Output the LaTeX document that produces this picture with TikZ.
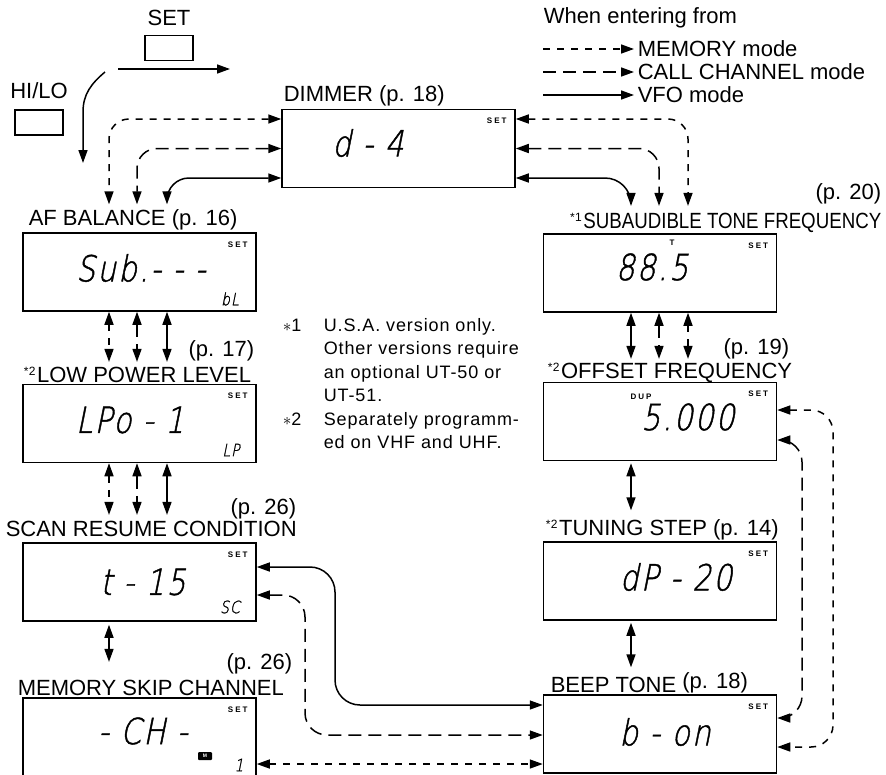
\documentclass[tikz,border=0pt]{standalone}
\usepackage{fontspec}
\setmainfont{Liberation Sans}
\newfontfamily\lcdfont{DejaVu Sans ExtraLight}[FakeSlant=0.2,FakeStretch=0.82,FakeBold=1.2,LetterSpace=6]
\newfontfamily\tagfont{Liberation Sans}[LetterSpace=25]
\newfontfamily\notefont{Liberation Sans}[LetterSpace=5]
\usetikzlibrary{arrows.meta}
\usetikzlibrary{calc}
\usetikzlibrary{positioning}

\newcommand{\fnm}[1]{\raisebox{7pt}{\fontsize{12}{12}\selectfont *\kern0.5pt#1\kern1.5pt}}

\begin{document}
\begin{tikzpicture}[
  x=1pt, y=-1pt, line width=1.5pt,
  > = {Triangle[length=13pt,width=9pt]},
  lcd/.style = {draw, minimum width=233pt, minimum height=78pt, inner sep=0pt},
  key/.style = {draw, minimum width=48pt, minimum height=25pt, inner sep=0pt},
  lbl/.style = {font=\fontsize{22}{26}\selectfont, inner sep=0pt},
  note/.style = {font=\notefont\fontsize{18}{22}\selectfont, inner sep=0pt},
  digits/.style = {font=\lcdfont\fontsize{36}{36}\selectfont, inner sep=0pt},
  small/.style = {font=\lcdfont\fontsize{17}{17}\selectfont, inner sep=0pt},
  settag/.style = {font=\tagfont\bfseries\fontsize{8}{8}\selectfont, inner sep=0pt},
  mem/.style = {dash pattern=on 7pt off 7pt},
  call/.style = {dash pattern=on 13pt off 7pt}
  ]
	\clip (0,0) rectangle (886,774);

	% keys
	\node[key] (setkey) at (169,48) {};
	\node[lbl, above=8pt of setkey] (setlbl) {SET};
	\node[key] (hlkey) at (39,122.5) {};
	\node[lbl, above=10pt of hlkey] (hllbl) {HI/LO};
	\coordinate (setA) at (118,69);
	\coordinate (setB) at (230,69);
	\coordinate (hlA) at (105,72);
	\coordinate (hlM) at (83,112);
	\coordinate (hlB) at (83,163);
	\draw[->] (setA) -- (setB);
	\draw[->] (hlA) to[out=-140, in=90] (hlM) -- (hlB);

	% legend
	\node[lbl, anchor=base west] (legtitle) at (543,23) {When entering from};
	\node[lbl, anchor=west] (legmem) at (637,49) {MEMORY mode};
	\node[lbl, anchor=west] (legcall) at (637,72) {CALL CHANNEL mode};
	\node[lbl, anchor=west] (legvfo) at (637,95) {VFO mode};
	\coordinate (legA) at (543,49);
	\coordinate (legB) at (543,72);
	\coordinate (legC) at (543,95);
	\draw[mem,->,shorten >=3pt] (legA) -- (legmem.west);
	\draw[call,->,shorten >=3pt] (legB) -- (legcall.west);
	\draw[->,shorten >=3pt] (legC) -- (legvfo.west);

	% display boxes
	\node[lcd] (dim) at (398.5,148.5) {};
	\node[lcd] (af) at (139.5,272) {};
	\node[lcd] (lp) at (139.5,423.5) {};
	\node[lcd] (scan) at (139.5,582) {};
	\node[lcd] (msc) at (139.5,737) {};
	\node[lcd] (sub) at (660,273) {};
	\node[lcd] (off) at (660,421.5) {};
	\node[lcd] (tun) at (660,581) {};
	\node[lcd] (beep) at (660,734) {};

	% titles
	\node[lbl, anchor=base west] (dimlbl) at (283,101) {DIMMER (p. 18)};
	\node[lbl, anchor=base west] (aflbl) at (28,225) {AF BALANCE (p. 16)};
	\node[lbl, anchor=base east] (lppg) at (255,356) {(p. 17)};
	\node[lbl, anchor=base west] (lplbl) at (23,382) {\fnm{2}LOW POWER LEVEL};
	\node[lbl, anchor=base east] (scanpg) at (297,514) {(p. 26)};
	\node[lbl, anchor=base west] (scanlbl) at (5,536) {SCAN RESUME CONDITION};
	\node[lbl, anchor=base east] (mscpg) at (293,669) {(p. 26)};
	\node[lbl, anchor=base west] (msclbl) at (17,695) {MEMORY SKIP CHANNEL};
	\node[lbl, anchor=base east] (subpg) at (882,199) {(p. 20)};
	\node[lbl, anchor=base east] (sublbl) at (882,228) {\fnm{1}\scalebox{0.85}[1]{SUBAUDIBLE TONE FREQUENCY}};
	\node[lbl, anchor=base east] (offpg) at (790,354) {(p. 19)};
	\node[lbl, anchor=base west] (offlbl) at (547,378) {\fnm{2}OFFSET FREQUENCY};
	\node[lbl, anchor=base west] (tunlbl) at (545,535) {\fnm{2}TUNING STEP (p. 14)};
	\node[lbl, anchor=base west] (beeplbl) at (550,692) {BEEP TONE \raisebox{4pt}{(p. 18)}};

	% readouts
	\foreach \b in {dim,af,lp,scan,msc,sub,off,tun,beep}
		\node[settag] (set\b) at ([xshift=-19pt,yshift=-12pt]\b.north east) {SET};
	\node[digits] (dimval) at (368,143) {d - 4};
	\node[digits] (afval) at (141,268) {Sub.- - -};
	\node[small] (afsub) at (230,299) {bL};
	\node[digits] (lpval) at (130,420) {LPo - 1};
	\node[small] (lpsub) at (231,450) {LP};
	\node[digits] (scanval) at (143,582) {t - 15};
	\node[small] (scansub) at (230,607) {SC};
	\node[digits] (mscval) at (143,731) {- CH -};
	\node[fill, rounded corners=1pt, minimum width=14pt, minimum height=8pt, inner sep=0pt,
		text=white, font=\bfseries\fontsize{5}{5}\selectfont] (mscmark) at (205,756) {M};
	\node[small] (mscsub) at (239,765) {1};
	\node[digits] (subval) at (652,267) {88.5};
	\node[settag] (subtag) at (672,243) {T};
	\node[digits] (offval) at (688,417) {5.000};
	\node[settag] (offtag) at (641,397) {DUP};
	\node[digits] (tunval) at (676,577) {dP - 20};
	\node[digits] (beepval) at (665,732) {b - on};

	% notes
	\node[note, anchor=base west] (nm1) at (282,331) {$\ast$1};
	\node[note, anchor=base west] (nm2) at (282,425) {$\ast$2};
	\foreach \t [count=\i] in {U.S.A. version only., Other versions require, an optional UT-50 or, UT-51., Separately programm-, ed on VHF and UHF.}
		\node[note, anchor=base west] (nt\i) at (323,307.5+23.5*\i) {\t};

	% columns of the connectors
	\coordinate (L1) at (109,0);
	\coordinate (L2) at (137,0);
	\coordinate (L3) at (167,0);
	\coordinate (R1) at (631,0);
	\coordinate (R2) at (659,0);
	\coordinate (R3) at (688,0);

	% from the dimmer
	\draw[mem,<->,rounded corners=20pt,shorten >=4pt] ([yshift=29.5pt]dim.west) -| (L1 |- aflbl.north);
	\draw[call,<->,rounded corners=20pt,shorten >=4pt] (dim.west) -| (L2 |- aflbl.north);
	\draw[<->,rounded corners=22pt,shorten >=4pt] ([yshift=-29.5pt]dim.west) -| (L3 |- aflbl.north);
	\draw[mem,<->,rounded corners=20pt,shorten >=6pt] ([yshift=29.5pt]dim.east) -| (R3 |- sublbl.north);
	\draw[call,<->,rounded corners=20pt,shorten >=6pt] (dim.east) -| (R2 |- sublbl.north);
	\draw[<->,rounded corners=26pt,shorten >=6pt] ([yshift=-29.5pt]dim.east) -| (R1 |- sublbl.north);

	% down the columns
	\foreach \c/\s in {L1/mem,L2/call,L3/solid}{
		\draw[\s,<->,shorten >=4pt] (\c |- af.south) -- (\c |- lplbl.north);
		\draw[\s,<->,shorten >=5pt] (\c |- lp.south) -- (\c |- scanlbl.north);
	}
	\draw[<->,shorten <=3pt,shorten >=17pt] (L1 |- scan.south) -- (L1 |- msclbl.north);
	\foreach \c/\s in {R1/solid,R2/call,R3/mem}
		\draw[\s,<->,shorten >=3pt] (\c |- sub.south) -- (\c |- offlbl.north);
	\draw[<->,shorten <=2pt,shorten >=8pt] (R1 |- off.south) -- (R1 |- tunlbl.north);
	\draw[<->,shorten <=2pt,shorten >=4pt] (R1 |- tun.south) -- (R1 |- beeplbl.north);

	% to the beep tone
	\coordinate (bendS) at (335,0);
	\coordinate (bendC) at (305,0);
	\coordinate (beepS) at ([yshift=29pt]beep.west);
	\coordinate (beepC) at ([yshift=-1pt]beep.west);
	\coordinate (mscM) at ([yshift=-27pt]msc.east);
	\draw[<->,rounded corners=25pt] ([yshift=15pt]scan.east) -| (bendS |- beepS) -- (beepS);
	\draw[call,<->,rounded corners=22pt] ([yshift=-13pt]scan.east) -| (bendC |- beepC) -- (beepC);
	\draw[mem,<->] (mscM) -- (mscM -| beep.west);

	% loops on the right
	\coordinate (loopM) at (833,0);
	\coordinate (loopC) at (802,0);
	\coordinate (beepM) at ([yshift=-13pt]beep.east);
	\coordinate (beepK) at ([yshift=16pt]beep.east);
	\draw[mem,<->,rounded corners=22pt] ([yshift=11.5pt]off.east) -| (loopM |- beepM) -- (beepM);
	\draw[call,<->,rounded corners=22pt] ([yshift=-18.5pt]off.east) -| (loopC |- beepK) -- (beepK);

\end{tikzpicture}
\end{document}
